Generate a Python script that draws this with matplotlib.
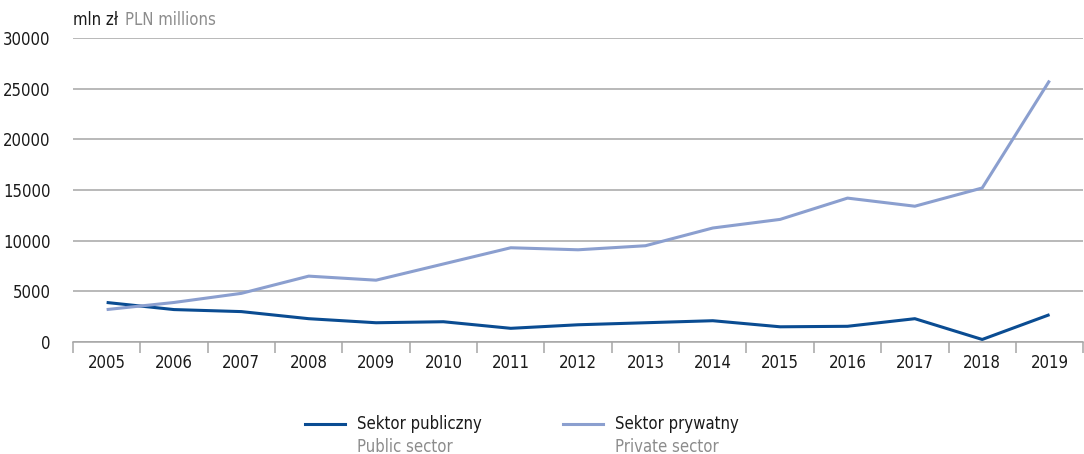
import numpy as np
import matplotlib
matplotlib.use("Agg")
import matplotlib.pyplot as plt
from matplotlib.lines import Line2D

#################### DATA ####################
years = [str(y) for y in range(2005, 2020)]
public = [3900, 3200, 3000, 2300, 1900, 2000, 1350, 1700, 1900, 2100, 1500, 1550, 2300, 250, 2700]
private = [3200, 3900, 4800, 6500, 6100, 7700, 9300, 9100, 9500, 11250, 12100, 14200, 13400, 15200, 25800]
yticks = [0, 5000, 10000, 15000, 20000, 25000, 30000]
labels_pl = ["Sektor publiczny", "Sektor prywatny"]
labels_en = ["Public sector", "Private sector"]
##############################################

plt.rcParams["font.family"] = ["DejaVu Sans"]
plt.rcParams["font.stretch"] = "condensed"

dark = "#0a4c92"
light = "#8b9fcf"
grid = "#a6a6a6"
grey_txt = "#8c8c8c"
fs = 12

fig = plt.figure(figsize=(10.84, 4.54), dpi=100)
ax = fig.add_axes([0.0673, 0.2467, 0.932, 0.6696])

x = np.arange(len(years))
ax.plot(x, public, color=dark, lw=2.2, solid_capstyle="butt")
ax.plot(x, private, color=light, lw=2.2, solid_capstyle="butt")

ax.set_xlim(-0.5, len(years) - 0.5)
ax.set_ylim(0, 30000)
ax.set_yticks(yticks)
ax.set_yticklabels([str(v) for v in yticks], fontsize=fs, color="#1a1a1a")
ax.yaxis.grid(True, color=grid, lw=1.1)
ax.set_axisbelow(True)
ax.tick_params(axis="y", length=0, pad=16)

ax.set_xticks(x)
ax.set_xticklabels(years, fontsize=fs, color="#1a1a1a")
ax.set_xticks(np.arange(-0.5, len(years)), minor=True)
ax.tick_params(axis="x", which="major", length=0, pad=9)
ax.tick_params(axis="x", which="minor", length=8, color=grid, width=1.1)

for s in ["left", "right", "top"]:
    ax.spines[s].set_visible(False)
ax.spines["bottom"].set_color(grid)
ax.spines["bottom"].set_linewidth(1.1)

# unit header
fig.text(73 / 1084, 1 - 20 / 454, "mln zł", fontsize=fs, color="#1a1a1a", va="center")
fig.text(125 / 1084, 1 - 20 / 454, "PLN millions", fontsize=fs, color=grey_txt, va="center")

# legend
for (x0, col, pl, en) in [(305, dark, labels_pl[0], labels_en[0]),
                          (563, light, labels_pl[1], labels_en[1])]:
    fig.add_artist(Line2D([x0 / 1084, (x0 + 40) / 1084], [1 - 424 / 454] * 2,
                          color=col, lw=2.2, transform=fig.transFigure))
    fig.text((x0 + 52) / 1084, 1 - 424 / 454, pl, fontsize=fs, color="#1a1a1a", va="center")
    fig.text((x0 + 52) / 1084, 1 - 447 / 454, en, fontsize=fs, color=grey_txt, va="center")

fig.savefig("out.png", dpi=100)
